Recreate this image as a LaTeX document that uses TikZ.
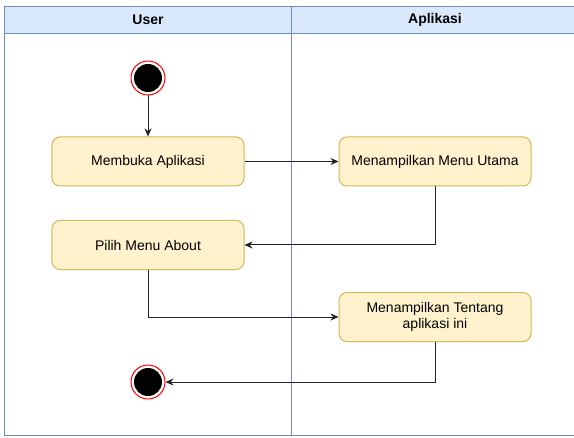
\documentclass[tikz,border=0pt]{standalone}
\usepackage{fontspec}
\setmainfont{Liberation Sans}
\usetikzlibrary{arrows.meta}

\definecolor{laneblue}{HTML}{6C8EBF}
\definecolor{headfill}{HTML}{DAE8FC}
\definecolor{actfill}{HTML}{FFF2CC}
\definecolor{actdraw}{HTML}{D6B656}
\definecolor{flowgray}{HTML}{222222}

\begin{document}
\begin{tikzpicture}[x=1bp, y=-1bp,
	action/.style={draw=actdraw, fill=actfill, rounded corners=8bp, line width=1bp,
		minimum width=192bp, minimum height=49bp, align=center, inner sep=2bp,
		font=\fontsize{14bp}{16.5bp}\selectfont},
	initialstate/.style={circle, draw=red, fill=white, line width=1bp, minimum size=34bp, inner sep=0,
		path picture={\fill[black] (path picture bounding box.center) circle[radius=14bp];}},
	flow/.style={draw=flowgray, line width=1bp, -{Stealth[length=8bp, width=7bp]}},
	lanetitle/.style={font=\fontsize{14bp}{16bp}\selectfont\bfseries}]

	\useasboundingbox (0,0) rectangle (574,438);
	\clip (0,0) rectangle (574,438);

	\def\laneleft{4.5}
	\def\lanetop{6.5}
	\def\lanebottom{435.5}
	\def\lanemid{291.5}
	\def\laneright{578.5}

	% swimlanes
	\fill[white] (0,0) rectangle (574,438);
	\fill[headfill] (\laneleft,\lanetop) rectangle (\laneright,33.5);
	\draw[laneblue, line width=1bp] (\laneleft,\lanetop) rectangle (\laneright,\lanebottom);
	\draw[laneblue, line width=1bp] (\laneleft,33.5) -- (\laneright,33.5);
	\draw[laneblue, line width=1bp] (\lanemid,\lanetop) -- (\lanemid,\lanebottom);

	\node[lanetitle] (user) at (148,20) {User};
	\node[lanetitle] (aplikasi) at (435,20) {Aplikasi};

	% activities
	\node[initialstate] (start) at (148,78) {};
	\node[action] (membuka) at (148,161.5) {Membuka Aplikasi};
	\node[action] (utama) at (435,161.5) {Menampilkan Menu Utama};
	\node[action] (pilih) at (148,245) {Pilih Menu About};
	\node[action] (tentang) at (435,317) {Menampilkan Tentang\\aplikasi ini};
	\node[initialstate] (end) at (148,382) {};

	\draw[flow] (start) -- (membuka);
	\draw[flow] (membuka) -- (utama);
	\draw[flow] (utama.south) |- (pilih.east);
	\draw[flow] (pilih.south) |- (tentang.west);
	\draw[flow] (tentang.south) |- (end);

\end{tikzpicture}
\end{document}
